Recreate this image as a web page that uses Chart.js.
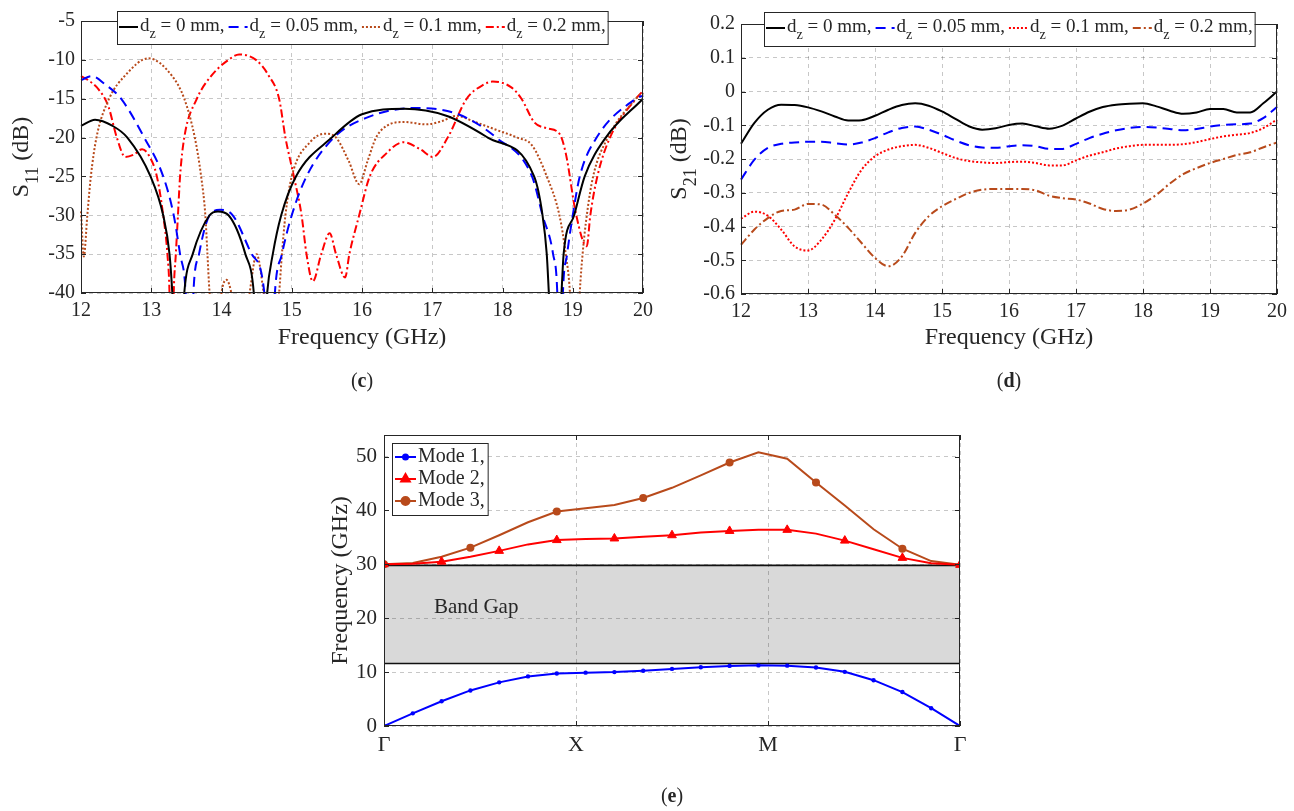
<!DOCTYPE html>
<html lang="en">
<head>
<meta charset="UTF-8">
<title>S11, S21 and dispersion diagram</title>
<style>
  body {
    margin: 0;
    width: 1294px;
    height: 811px;
    position: relative;
    overflow: hidden;
    background: #fff;
    font-family: 'Liberation Serif', 'Times New Roman', serif;
    color: #262626;
  }
  .panel { position: absolute; }
  .tag {
    position: absolute;
    width: 100px;
    text-align: center;
    font-size: 20px;
    line-height: 24px;
  }
</style>
</head>
<body>
<div class="panel" style="left:0;top:0;"><canvas id="s11Chart" width="660" height="400"></canvas></div>
<div class="panel" style="left:660px;top:0;"><canvas id="s21Chart" width="634" height="400"></canvas></div>
<div class="panel" style="left:300px;top:400px;"><canvas id="bandChart" width="700" height="411"></canvas></div>
<div class="tag" style="left:312px;top:368px;">(<b>c</b>)</div>
<div class="tag" style="left:959px;top:368px;">(<b>d</b>)</div>
<div class="tag" style="left:622px;top:783px;">(<b>e</b>)</div>

<script src="https://cdn.jsdelivr.net/npm/chart.js"></script>
<script>
// ---- (c) S11 data, GHz / dB (values below -40 are cut off by the axis)
const s11Labels = ['d_z = 0 mm,', 'd_z = 0.05 mm,', 'd_z = 0.1 mm,', 'd_z = 0.2 mm,'];

const s11Freq0 = [12.0, 12.2, 12.45, 12.66, 12.99, 13.17, 13.26, 13.30, 13.38, 13.47, 13.59, 13.83, 13.95, 14.1,
  14.34, 14.46, 14.55, 14.65, 14.73, 14.85, 15.06, 15.57, 16.0, 16.6, 17.2, 17.79, 18.45, 18.57, 18.63, 18.66,
  18.75, 18.84, 18.87, 19.02, 19.17, 19.47, 20.0];
const s11Dz0 = [-18.5, -17.7, -18.5, -20, -25, -30, -35, -40, -55, -40, -35, -30, -29.5, -30,
  -35, -40, -55, -40, -35, -30, -25, -20, -17, -16.3, -17.2, -20, -25, -30, -35, -40,
  -55, -40, -35, -30, -25, -20, -15];

const s11Freq005 = [12.0, 12.15, 12.35, 12.57, 12.9, 13.17, 13.32, 13.41, 13.49, 13.55, 13.6, 13.68, 13.83, 13.98,
  14.16, 14.43, 14.61, 14.69, 14.76, 14.86, 15.0, 15.21, 15.6, 16.05, 16.74, 17.37, 17.91, 18.42, 18.57, 18.72,
  18.78, 18.82, 18.86, 18.92, 19.0, 19.1, 19.34, 19.9, 20.0];
const s11Dz005 = [-12.6, -12.1, -13.2, -15, -20, -25, -30, -35, -40, -55, -40, -35, -30, -29.3,
  -30, -35, -40, -55, -40, -35, -30, -25, -20, -17.5, -16.2, -17, -20, -25, -30, -35,
  -40, -55, -40, -35, -30, -25, -20, -15, -14.6];

const s11Freq01 = [12.0, 12.04, 12.09, 12.14, 12.22, 12.4, 12.63, 12.96, 13.29, 13.47, 13.62, 13.71, 13.77, 13.8,
  13.83, 13.92, 14.0, 14.07, 14.14, 14.27, 14.4, 14.5, 14.6, 14.71, 14.82, 14.86, 14.91, 15.0, 15.27, 15.48,
  15.63, 15.81, 15.96, 16.08, 16.2, 16.35, 16.6, 16.92, 17.13, 17.34, 17.61, 17.91, 18.21, 18.42, 18.63, 18.81,
  18.9, 18.96, 19.03, 19.1, 19.14, 19.2, 19.29, 19.5, 19.9, 20.0];
const s11Dz01 = [-29.5, -35.3, -30, -25, -20, -15, -12, -9.8, -12, -15, -20, -25, -30, -35,
  -40, -48, -40, -38.3, -40, -48, -40, -35, -40, -48, -40, -35, -30, -25, -20.5, -19.5,
  -20, -23, -26, -23, -20, -18.5, -18, -18.3, -17.9, -17.2, -18, -19, -20, -21, -25, -30,
  -35, -40, -55, -40, -35, -30, -25, -20, -15, -14.2];

const s11Freq02 = [12.0, 12.1, 12.25, 12.39, 12.51, 12.63, 12.75, 12.87, 12.96, 13.08, 13.17, 13.23, 13.26, 13.29,
  13.32, 13.35, 13.38, 13.41, 13.47, 13.65, 13.86, 14.1, 14.25, 14.49, 14.67, 14.82, 14.91, 15.03, 15.14, 15.21,
  15.3, 15.42, 15.54, 15.63, 15.76, 15.82, 15.96, 16.11, 16.35, 16.59, 16.83, 17.01, 17.22, 17.49, 17.73, 17.86,
  18.12, 18.27, 18.45, 18.63, 18.81, 18.9, 19.05, 19.2, 19.25, 19.35, 19.53, 19.9, 20.0];
const s11Dz02 = [-12.1, -12.6, -13.8, -16, -20, -22.5, -22.2, -21.5, -22.2, -25, -30, -35, -40, -55,
  -40, -35, -30, -25, -20, -15, -12, -10, -9.3, -10, -12, -15, -20, -25, -30, -35,
  -38.5, -35, -32.3, -35, -38, -35, -30, -25, -22, -20.6, -21.5, -22.5, -20, -15, -13.2, -12.8,
  -13.5, -15, -18, -18.8, -19.5, -22, -30, -34, -30, -25, -20, -15, -14.0];

// ---- (d) S21 data
const s21Labels = ['d_z = 0 mm,', 'd_z = 0.05 mm,', 'd_z = 0.1 mm,', 'd_z = 0.2 mm,'];
const s21Freq = [12.0, 12.2, 12.4, 12.6, 12.8, 13.0, 13.2, 13.4, 13.6, 13.8, 14.0, 14.2, 14.4, 14.6, 14.8,
  15.0, 15.2, 15.4, 15.6, 15.8, 16.0, 16.2, 16.4, 16.6, 16.8, 17.0, 17.2, 17.4, 17.6, 17.8, 18.0,
  18.2, 18.4, 18.6, 18.8, 19.0, 19.2, 19.4, 19.6, 19.8, 20.0];
const s21Dz0 = [-0.155, -0.093, -0.054, -0.039, -0.040, -0.047, -0.059, -0.074, -0.086, -0.085, -0.072,
  -0.054, -0.040, -0.035, -0.042, -0.059, -0.081, -0.103, -0.113, -0.109, -0.099, -0.095, -0.103, -0.110,
  -0.101, -0.080, -0.060, -0.046, -0.039, -0.036, -0.035, -0.044, -0.057, -0.066, -0.062, -0.052, -0.052,
  -0.062, -0.062, -0.034, 0.0];
const s21Dz005 = [-0.261, -0.202, -0.167, -0.155, -0.151, -0.149, -0.149, -0.153, -0.157, -0.151, -0.138,
  -0.121, -0.108, -0.104, -0.113, -0.128, -0.145, -0.159, -0.166, -0.167, -0.162, -0.159, -0.162, -0.170,
  -0.170, -0.155, -0.138, -0.125, -0.115, -0.108, -0.105, -0.107, -0.111, -0.115, -0.111, -0.104, -0.099,
  -0.097, -0.095, -0.078, -0.046];
const s21Dz01 = [-0.377, -0.356, -0.368, -0.409, -0.459, -0.471, -0.439, -0.380, -0.301, -0.232, -0.192,
  -0.172, -0.162, -0.158, -0.167, -0.182, -0.197, -0.206, -0.210, -0.212, -0.209, -0.208, -0.212, -0.219,
  -0.219, -0.204, -0.190, -0.180, -0.169, -0.162, -0.158, -0.158, -0.158, -0.156, -0.150, -0.141, -0.133,
  -0.128, -0.123, -0.108, -0.083];
const s21Dz02 = [-0.454, -0.409, -0.375, -0.354, -0.350, -0.333, -0.335, -0.365, -0.404, -0.449, -0.493,
  -0.518, -0.489, -0.419, -0.370, -0.340, -0.319, -0.301, -0.291, -0.289, -0.289, -0.289, -0.293, -0.309,
  -0.316, -0.320, -0.332, -0.348, -0.354, -0.350, -0.332, -0.306, -0.273, -0.245, -0.227, -0.212, -0.200,
  -0.188, -0.180, -0.165, -0.151];

// ---- (e) dispersion diagram, GHz along Γ-X-M-Γ
const kTicks = [0, 1, 2, 3];
const kLabels = ['Γ', 'X', 'M', 'Γ'];
const bandTicks = [0, 10, 20, 30, 40, 50];
const kPath = [0, 0.15, 0.3, 0.45, 0.6, 0.75, 0.9, 1.05, 1.2, 1.35, 1.5, 1.65, 1.8, 1.95, 2.1,
  2.25, 2.4, 2.55, 2.7, 2.85, 3.0];
const modeLabels = ['Mode 1,', 'Mode 2,', 'Mode 3,'];
const mode1 = [0, 2.35, 4.6, 6.6, 8.1, 9.2, 9.75, 9.9, 10.0, 10.25, 10.6, 10.9, 11.15, 11.25, 11.2,
  10.85, 10.05, 8.5, 6.3, 3.3, 0];
const mode2 = [30.0, 30.1, 30.5, 31.4, 32.5, 33.7, 34.5, 34.7, 34.8, 35.1, 35.4, 35.9, 36.2, 36.4, 36.4,
  35.7, 34.4, 32.8, 31.2, 30.2, 29.9];
const mode3 = [30.0, 30.25, 31.4, 33.1, 35.4, 37.8, 39.8, 40.4, 41.0, 42.3, 44.2, 46.5, 48.9, 50.8, 49.6,
  45.2, 40.9, 36.5, 32.9, 30.6, 29.9];
const bandGap = [11.6, 29.8];
const bandGapLabel = 'Band Gap';

const FONT = '"Liberation Serif", "Times New Roman", serif';
const INK = '#262626';
const BROWN = '#b84a1b';
Chart.defaults.font.family = FONT;
Chart.defaults.color = INK;

function pts(xs, ys) {
  return xs.map((x, i) => ({ x: x, y: ys[i] }));
}

// text with _z / _{11} style subscripts
function richParts(text) {
  const parts = [];
  const re = /_\{([^}]*)\}|_(.)/g;
  let last = 0, m;
  while ((m = re.exec(text))) {
    if (m.index > last) parts.push({ t: text.slice(last, m.index), sub: false });
    parts.push({ t: m[1] || m[2], sub: true });
    last = re.lastIndex;
  }
  if (last < text.length) parts.push({ t: text.slice(last), sub: false });
  return parts;
}

function richWidth(ctx, text, size) {
  let w = 0;
  richParts(text).forEach(p => {
    ctx.font = (p.sub ? size * 0.75 : size) + 'px ' + FONT;
    w += ctx.measureText(p.t).width;
  });
  return w;
}

function drawRich(ctx, text, x, y, size) {
  ctx.textAlign = 'left';
  ctx.textBaseline = 'middle';
  richParts(text).forEach(p => {
    const s = p.sub ? size * 0.75 : size;
    ctx.font = s + 'px ' + FONT;
    ctx.fillText(p.t, x, p.sub ? y + size * 0.45 : y);
    x += ctx.measureText(p.t).width;
  });
}

// box, inward ticks (MATLAB style)
const matlabFrame = {
  id: 'matlabFrame',
  afterDatasetsDraw(chart) {
    const { ctx, chartArea: a, scales } = chart;
    const tl = 5;
    ctx.save();
    ctx.strokeStyle = INK;
    ctx.lineWidth = 1;
    ctx.setLineDash([]);
    ctx.beginPath();
    scales.x.ticks.forEach(t => {
      const px = Math.round(scales.x.getPixelForValue(t.value)) + 0.5;
      ctx.moveTo(px, a.bottom); ctx.lineTo(px, a.bottom - tl);
      ctx.moveTo(px, a.top); ctx.lineTo(px, a.top + tl);
    });
    scales.y.ticks.forEach(t => {
      const py = Math.round(scales.y.getPixelForValue(t.value)) + 0.5;
      ctx.moveTo(a.left, py); ctx.lineTo(a.left + tl, py);
      ctx.moveTo(a.right, py); ctx.lineTo(a.right - tl, py);
    });
    ctx.stroke();
    ctx.strokeRect(Math.round(a.left) + 0.5, Math.round(a.top) + 0.5,
      Math.round(a.width) - 1, Math.round(a.height) - 1);
    ctx.restore();
  }
};

// axis titles with subscripts
const axisText = {
  id: 'axisText',
  afterDraw(chart, args, o) {
    const { ctx, chartArea: a } = chart;
    ctx.save();
    ctx.fillStyle = INK;
    if (o.xTitle) {
      const w = richWidth(ctx, o.xTitle, o.size);
      drawRich(ctx, o.xTitle, (a.left + a.right) / 2 - w / 2, o.xTitleY, o.size);
    }
    if (o.yTitle) {
      const w = richWidth(ctx, o.yTitle, o.size);
      ctx.translate(o.yTitleX, (a.top + a.bottom) / 2);
      ctx.rotate(-Math.PI / 2);
      drawRich(ctx, o.yTitle, -w / 2, 0, o.size);
    }
    ctx.restore();
  }
};

// legend drawn by hand so the d_z subscript works
const richLegend = {
  id: 'richLegend',
  afterDraw(chart, args, o) {
    if (!o.display) return;
    const ctx = chart.ctx;
    const a = chart.chartArea;
    const sets = chart.data.datasets;
    const widths = sets.map(ds => richWidth(ctx, ds.label, o.size));
    const sample = o.sample, pad = o.pad;
    let w, h;
    if (o.row) {
      w = pad * 2 + widths.reduce((s, v) => s + v + sample + 2, 0) + o.gap * (sets.length - 1);
      h = o.height;
    } else {
      w = pad * 2 + sample + 2 + Math.max.apply(null, widths);
      h = pad * 2 + o.rowHeight * sets.length;
    }
    const x0 = o.row ? Math.round((a.left + a.right) / 2 - w / 2) : o.x;
    const y0 = o.y;
    ctx.save();
    ctx.fillStyle = '#fff';
    ctx.fillRect(x0, y0, w, h);
    ctx.strokeStyle = INK;
    ctx.lineWidth = 1;
    ctx.strokeRect(x0 + 0.5, y0 + 0.5, w, h);

    let x = x0 + pad;
    sets.forEach((ds, i) => {
      const ly = o.row ? y0 + o.lineY : y0 + pad + o.rowHeight * (i + 0.5);
      const lx = o.row ? x : x0 + pad;
      ctx.strokeStyle = ds.borderColor;
      ctx.lineWidth = ds.borderWidth;
      ctx.setLineDash(ds.borderDash || []);
      ctx.beginPath();
      ctx.moveTo(lx, ly);
      ctx.lineTo(lx + sample, ly);
      ctx.stroke();
      ctx.setLineDash([]);
      if (ds.legendMarker) {
        ctx.fillStyle = ds.borderColor;
        Chart.helpers.drawPoint(ctx, { pointStyle: ds.pointStyle, radius: ds.legendMarker, rotation: 0, borderWidth: 1 },
          lx + sample / 2, ly);
      }
      ctx.fillStyle = INK;
      const ty = o.row ? y0 + o.textY : ly;
      drawRich(ctx, ds.label, lx + sample + 2, ty, o.size);
      if (o.row) x += sample + 2 + widths[i] + o.gap;
    });
    ctx.restore();
  }
};

// grey band gap, drawn under the grid
const bandGapPlugin = {
  id: 'bandGapPlugin',
  beforeDraw(chart, args, o) {
    if (!o.range) return;
    const { ctx, chartArea: a, scales } = chart;
    const y1 = scales.y.getPixelForValue(o.range[1]);
    const y0 = scales.y.getPixelForValue(o.range[0]);
    ctx.save();
    ctx.fillStyle = '#d9d9d9';
    ctx.fillRect(a.left, y1, a.width, y0 - y1);
    ctx.restore();
  },
  beforeDatasetsDraw(chart, args, o) {
    if (!o.range) return;
    const { ctx, chartArea: a, scales } = chart;
    const y1 = scales.y.getPixelForValue(o.range[1]);
    const y0 = scales.y.getPixelForValue(o.range[0]);
    ctx.save();
    ctx.strokeStyle = '#111';
    ctx.lineWidth = 1.6;
    ctx.beginPath();
    ctx.moveTo(a.left, y1); ctx.lineTo(a.right, y1);
    ctx.moveTo(a.left, y0); ctx.lineTo(a.right, y0);
    ctx.stroke();
    ctx.fillStyle = INK;
    ctx.font = '21px ' + FONT;
    ctx.textAlign = 'center';
    ctx.textBaseline = 'middle';
    ctx.fillText(o.label, scales.x.getPixelForValue(o.labelAt[0]), scales.y.getPixelForValue(o.labelAt[1]));
    ctx.restore();
  }
};

Chart.register(matlabFrame, axisText, richLegend, bandGapPlugin);

function gridOpts() {
  return { color: 'rgba(0,0,0,0.22)', lineWidth: 1, drawTicks: false };
}

function freqAxis(height) {
  return {
    type: 'linear', min: 12, max: 20,
    ticks: { stepSize: 1, padding: 6, font: { size: 20 }, maxRotation: 0 },
    grid: gridOpts(),
    border: { display: false, dash: [4, 4] },
    afterFit: s => { s.height = height; }
  };
}

function lineSet(label, data, color, dash) {
  return {
    label: label, data: data, borderColor: color, backgroundColor: color,
    borderWidth: 2, borderDash: dash, pointRadius: 0,
    cubicInterpolationMode: 'monotone', clip: 1
  };
}

const baseOpts = {
  responsive: false,
  animation: false,
  events: [],
  plugins: { legend: { display: false }, tooltip: { enabled: false } }
};

// (c)
new Chart(document.getElementById('s11Chart'), {
  type: 'line',
  data: {
    datasets: [
      lineSet(s11Labels[0], pts(s11Freq0, s11Dz0), '#000000', []),
      lineSet(s11Labels[1], pts(s11Freq005, s11Dz005), '#0000ff', [10, 6]),
      lineSet(s11Labels[2], pts(s11Freq01, s11Dz01), BROWN, [2, 2]),
      lineSet(s11Labels[3], pts(s11Freq02, s11Dz02), '#ff0000', [8, 3, 2, 3])
    ]
  },
  options: Object.assign({}, baseOpts, {
    layout: { padding: { left: 0, top: 21, right: 17, bottom: 70 } },
    scales: {
      x: freqAxis(37),
      y: {
        min: -40, max: -5,
        ticks: { stepSize: 5, padding: 6, font: { size: 20 } },
        grid: gridOpts(),
        border: { display: false, dash: [4, 4] },
        afterFit: s => { s.width = 81; }
      }
    },
    plugins: {
      legend: { display: false }, tooltip: { enabled: false },
      axisText: { xTitle: 'Frequency (GHz)', xTitleY: 338, yTitle: 'S_{11} (dB)', yTitleX: 22, size: 24 },
      richLegend: { display: true, row: true, y: 11, height: 33, size: 19, sample: 19, gap: 4, pad: 2, lineY: 16, textY: 15 }
    }
  })
});

// (d)
new Chart(document.getElementById('s21Chart'), {
  type: 'line',
  data: {
    datasets: [
      lineSet(s21Labels[0], pts(s21Freq, s21Dz0), '#000000', []),
      lineSet(s21Labels[1], pts(s21Freq, s21Dz005), '#0000ff', [10, 6]),
      lineSet(s21Labels[2], pts(s21Freq, s21Dz01), '#ff0000', [2, 2]),
      lineSet(s21Labels[3], pts(s21Freq, s21Dz02), BROWN, [8, 3, 2, 3])
    ]
  },
  options: Object.assign({}, baseOpts, {
    layout: { padding: { left: 0, top: 24, right: 17, bottom: 69 } },
    scales: {
      x: freqAxis(37),
      y: {
        min: -0.6, max: 0.2,
        ticks: { stepSize: 0.1, padding: 6, font: { size: 20 }, callback: v => String(Math.round(v * 10) / 10) },
        grid: gridOpts(),
        border: { display: false, dash: [4, 4] },
        afterFit: s => { s.width = 81; }
      }
    },
    plugins: {
      legend: { display: false }, tooltip: { enabled: false },
      axisText: { xTitle: 'Frequency (GHz)', xTitleY: 338, yTitle: 'S_{21} (dB)', yTitleX: 20, size: 24 },
      richLegend: { display: true, row: true, y: 12, height: 34, size: 19, sample: 19, gap: 4, pad: 2, lineY: 16, textY: 15 }
    }
  })
});

// (e)
new Chart(document.getElementById('bandChart'), {
  type: 'line',
  data: {
    datasets: [
      {
        label: modeLabels[0], data: pts(kPath, mode1), borderColor: '#0000ff', backgroundColor: '#0000ff',
        borderWidth: 2, pointStyle: 'circle', pointRadius: 2.2, pointBorderWidth: 0, legendMarker: 2.5, tension: 0
      },
      {
        label: modeLabels[1], data: pts(kPath, mode2), borderColor: '#ff0000', backgroundColor: '#ff0000',
        borderWidth: 2, pointStyle: 'triangle', pointRadius: c => (c.dataIndex % 2 === 0 ? 5 : 0),
        pointBorderWidth: 1, legendMarker: 5, tension: 0
      },
      {
        label: modeLabels[2], data: pts(kPath, mode3), borderColor: BROWN, backgroundColor: BROWN,
        borderWidth: 2, pointStyle: 'circle', pointRadius: c => (c.dataIndex % 3 === 0 ? 4 : 0),
        pointBorderWidth: 0, legendMarker: 4, tension: 0
      }
    ]
  },
  options: Object.assign({}, baseOpts, {
    layout: { padding: { left: 0, top: 35, right: 40, bottom: 48 } },
    scales: {
      x: {
        type: 'linear', min: 0, max: 3,
        afterBuildTicks: s => { s.ticks = kTicks.map(v => ({ value: v })); },
        ticks: { padding: 6, font: { size: 22 }, maxRotation: 0, callback: v => kLabels[kTicks.indexOf(v)] },
        grid: gridOpts(),
        border: { display: false, dash: [4, 4] },
        afterFit: s => { s.height = 37; }
      },
      y: {
        min: 0, max: 54,
        afterBuildTicks: s => { s.ticks = bandTicks.map(v => ({ value: v })); },
        ticks: { padding: 7, font: { size: 21 } },
        grid: gridOpts(),
        border: { display: false, dash: [4, 4] },
        afterFit: s => { s.width = 84; }
      }
    },
    plugins: {
      legend: { display: false }, tooltip: { enabled: false },
      axisText: { yTitle: 'Frequency (GHz)', yTitleX: 41, size: 24 },
      richLegend: { display: true, row: false, x: 92, y: 43, size: 20, sample: 21, pad: 3, rowHeight: 22 },
      bandGapPlugin: { range: bandGap, label: bandGapLabel, labelAt: [0.48, 22] }
    }
  })
});
</script>
</body>
</html>
